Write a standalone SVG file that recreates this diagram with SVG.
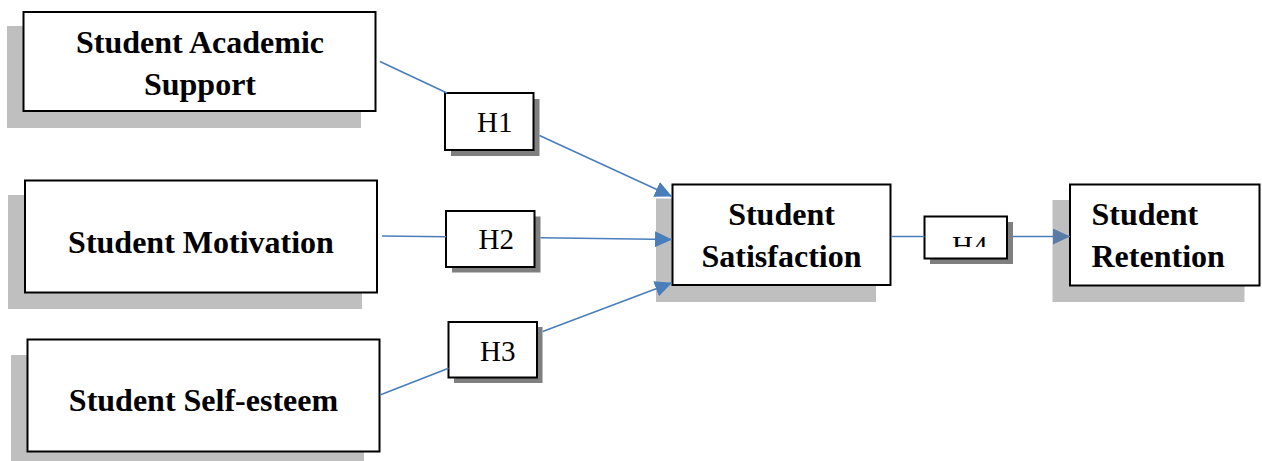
<svg xmlns="http://www.w3.org/2000/svg" width="1262" height="461" viewBox="0 0 1262 461">
<style>
.sh{fill:#bfbfbf}
.hsh{fill:#7f7f7f}
.box{fill:#ffffff;stroke:#000000;stroke-width:2}
.big{font-family:"Liberation Serif","Times New Roman",serif;font-weight:bold;font-size:32px;fill:#000000}
.h{font-family:"Liberation Serif","Times New Roman",serif;font-size:29px;fill:#000000}
.ln{fill:none;stroke:#4a7ebb;stroke-width:1.6}
</style>
<defs>
<marker id="arr" markerUnits="userSpaceOnUse" markerWidth="18" markerHeight="16" refX="17" refY="8" orient="auto">
<path d="M0,0 L17,8 L0,16 Z" fill="#4a7ebb"/>
</marker>
<marker id="arr2" markerUnits="userSpaceOnUse" markerWidth="18" markerHeight="16" refX="17" refY="8" orient="auto">
<path d="M0,0 L17,8 L0,16 Z" fill="#587ca6"/>
</marker>
<clipPath id="h4clip"><rect x="925" y="217" width="81" height="30"/></clipPath>
</defs>

<g id="node-academic">
<rect class="sh" x="7" y="26" width="354" height="102"/>
<rect class="box" x="23.5" y="12" width="352" height="99"/>
<text class="big" x="200" y="53" text-anchor="middle">Student Academic</text>
<text class="big" x="200" y="95" text-anchor="middle">Support</text>
</g>

<g id="node-motivation">
<rect class="sh" x="8" y="195" width="354" height="114"/>
<rect class="box" x="25" y="180.5" width="352" height="112"/>
<text class="big" x="201" y="252.5" text-anchor="middle">Student Motivation</text>
</g>

<g id="node-selfesteem">
<rect class="sh" x="11" y="355" width="353" height="110"/>
<rect class="box" x="27.5" y="339.5" width="352" height="112"/>
<text class="big" x="203.5" y="411" text-anchor="middle">Student Self-esteem</text>
</g>

<g id="node-satisfaction">
<rect class="sh" x="656" y="198.5" width="220" height="103.5"/>
<rect class="box" x="672.5" y="184.5" width="218" height="100.5"/>
<text class="big" x="781.5" y="225" text-anchor="middle">Student</text>
<text class="big" x="781.5" y="267" text-anchor="middle">Satisfaction</text>
</g>

<g id="node-retention">
<rect class="sh" x="1052.5" y="200" width="192" height="102"/>
<rect class="box" x="1070" y="184.5" width="189.5" height="101"/>
<text class="big" x="1091.5" y="225">Student</text>
<text class="big" x="1091.5" y="267">Retention</text>
</g>

<g id="node-h1">
<rect class="hsh" x="451" y="99" width="88.5" height="57"/>
<rect class="box" x="445" y="93" width="88.5" height="57"/>
<text class="h" x="477" y="131.5">H1</text>
</g>

<g id="node-h2">
<rect class="hsh" x="452" y="216.5" width="88.5" height="56"/>
<rect class="box" x="446" y="211" width="88.5" height="56"/>
<text class="h" x="478.5" y="249">H2</text>
</g>

<g id="node-h3">
<rect class="hsh" x="454" y="327" width="88.5" height="56"/>
<rect class="box" x="448.5" y="322" width="88.5" height="55.5"/>
<text class="h" x="480" y="360.5">H3</text>
</g>

<g id="node-h4">
<rect class="hsh" x="930" y="222" width="83" height="42"/>
<rect class="box" x="924.5" y="216.5" width="82.5" height="42"/>
<text class="h" x="952" y="256" clip-path="url(#h4clip)">H4</text>
</g>

<g id="connectors">
<line class="ln" x1="380" y1="61.5" x2="447" y2="93"/>
<line class="ln" x1="539.5" y1="135.5" x2="672" y2="196.5" marker-end="url(#arr)"/>
<line class="ln" x1="382" y1="236" x2="446" y2="236.7"/>
<line class="ln" x1="540.5" y1="237.7" x2="672" y2="239.5" marker-end="url(#arr)"/>
<line class="ln" x1="380" y1="395" x2="448.5" y2="368.3"/>
<line class="ln" x1="542.7" y1="331.5" x2="672" y2="282.8" marker-end="url(#arr)"/>
<line class="ln" x1="891" y1="236.5" x2="924.5" y2="236.5"/>
<line class="ln" x1="1013" y1="236.5" x2="1070" y2="236.5" marker-end="url(#arr2)"/>
</g>
</svg>
